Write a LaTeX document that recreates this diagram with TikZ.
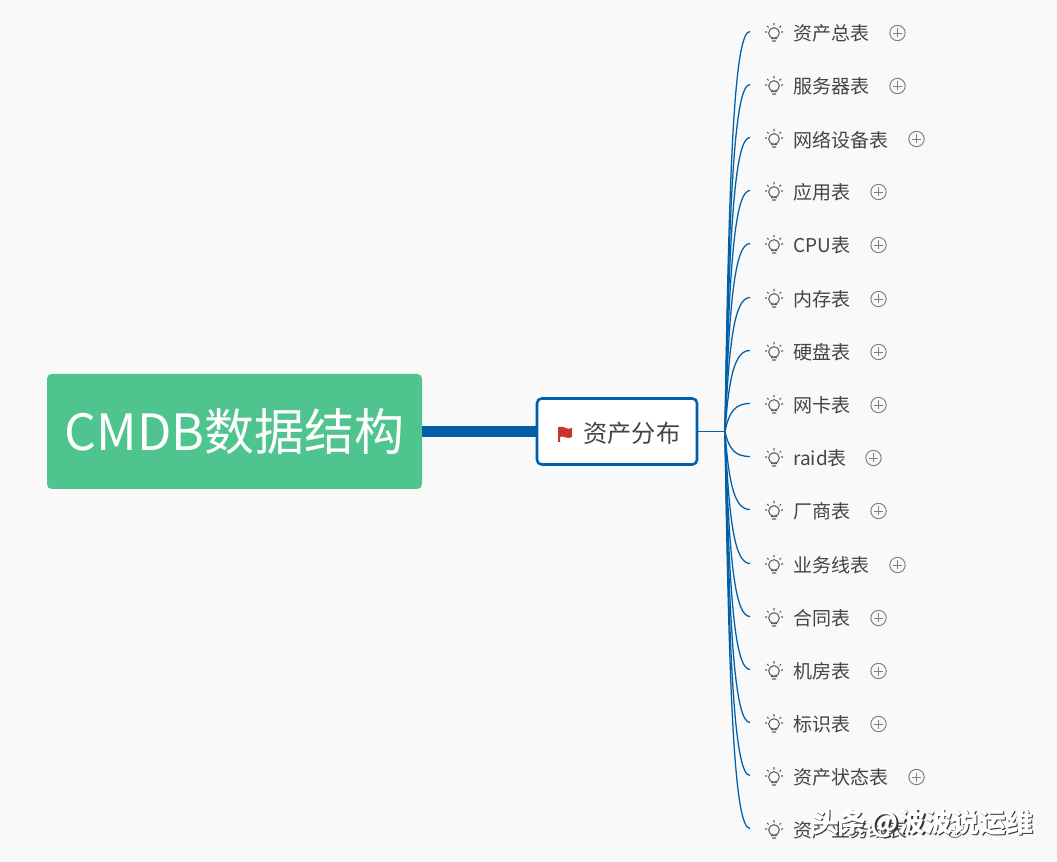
\documentclass[tikz,border=0pt]{standalone}
\usepackage{fontspec}
\setmainfont{Noto Sans CJK SC}
\usepackage{xcolor}
\usepackage{tikz}
\usetikzlibrary{calc}
\definecolor{linkblue}{HTML}{005FA8}
\definecolor{rootgreen}{HTML}{50C48F}
\definecolor{flagred}{HTML}{C6362F}
\definecolor{paper}{HTML}{F9F9F9}
\definecolor{inkgrey}{HTML}{444444}
% one row of the right column: name, y, text, x of the plus sign
\newcommand{\tablerow}[4]{
  \coordinate (e#1) at (750,#2-1.5);
  \node[bulb] (b#1) at (774,#2) {};
  \draw[bulbline] (771,#2+5.5) -- (777,#2+5.5) (772,#2+8) -- (776,#2+8)
    (774,#2-10) -- (774,#2-7.5) (767,#2-7) -- (768.5,#2-5.5) (781,#2-7) -- (779.5,#2-5.5)
    (765,#2-1) -- (767,#2-1) (783,#2-1) -- (781,#2-1);
  \node[leaf, anchor=west] (t#1) at (793,#2+0.7) {#3};
  \node[plus] (p#1) at (#4,#2) {};
  \draw[plusline] (#4-4.5,#2) -- (#4+4.5,#2) (#4,#2-4.5) -- (#4,#2+4.5);
  \draw[twig] (hub) .. controls (729,{431+(#2-432)*0.7}) and (735,#2-1.5) .. (e#1);
}
\begin{document}
\begin{tikzpicture}[x=0.75pt,y=-0.75pt,
  root/.style={fill=rootgreen, rounded corners=3.5pt, text=white, font=\fontsize{37.5}{42}\selectfont,
    minimum width=281.25pt, minimum height=86.25pt, inner sep=0pt},
  topic/.style={draw=linkblue, line width=1.9pt, fill=white, rounded corners=3.5pt,
    minimum width=120pt, minimum height=49.5pt, inner sep=0pt},
  leaf/.style={text=inkgrey, font=\fontsize{14.25}{16}\selectfont, inner sep=0pt},
  bulb/.style={circle, draw=inkgrey!85, line width=0.8pt, minimum size=8pt, inner sep=0pt},
  bulbline/.style={draw=inkgrey!85, line width=0.8pt},
  plus/.style={circle, draw=gray, line width=0.75pt, minimum size=11.5pt, inner sep=0pt},
  plusline/.style={draw=gray, line width=0.7pt},
  twig/.style={draw=linkblue, line width=0.95pt},
  stamp/.style={font=\bfseries\fontsize{20.2}{22}\selectfont, anchor=west, inner sep=0pt}
]
\useasboundingbox[fill=paper] (0,0) rectangle (1057,862);
% --- Root and main topic ---
\node[root] (root) at (234.5,431.5) {\raisebox{-1.5pt}{CMDB数据结构}};
\node[topic] (topic) at (617,431.5) {};
\node[font=\fontsize{18.2}{20}\selectfont, text=inkgrey, anchor=west, inner sep=0pt] (topictext) at (583,433.5) {资产分布};
\draw[linkblue, line width=8.25pt] (root.east) -- (topic.west);
\coordinate (flagtop) at (558,427);
\fill[flagred] (flagtop) -- (558,442) -- (560,442) -- (560,437)
  .. controls (564,435) and (567,440) .. (572,437) -- (572,428)
  .. controls (567,431) and (564,425) .. (flagtop) -- cycle;
\coordinate (hub) at (725,431.5);
\draw[twig] (topic.east) -- (hub);
% --- Tables ---
\tablerow{a}{33}{资产总表}{897.5}
\tablerow{b}{86}{服务器表}{897.5}
\tablerow{c}{139}{网络设备表}{916.5}
\tablerow{d}{192}{应用表}{878.5}
\tablerow{e}{245}{CPU表}{878.5}
\tablerow{f}{299}{内存表}{878.5}
\tablerow{g}{352}{硬盘表}{878.5}
\tablerow{h}{405}{网卡表}{878.5}
\tablerow{i}{458}{raid表}{873.5}
\tablerow{j}{511}{厂商表}{878.5}
\tablerow{k}{565}{业务线表}{897.5}
\tablerow{l}{618}{合同表}{878.5}
\tablerow{m}{671}{机房表}{878.5}
\tablerow{n}{724}{标识表}{878.5}
\tablerow{o}{777}{资产状态表}{916.5}
\tablerow{p}{830}{资产业务线表}{955}
% --- Watermark ---
\node[stamp, text=black!80] (stampshadow) at (813.4,824.6) {头条\,@波波说运维};
\node[stamp, text=white] (stampface) at (812.2,823.4) {头条\,@波波说运维};
\end{tikzpicture}
\end{document}
